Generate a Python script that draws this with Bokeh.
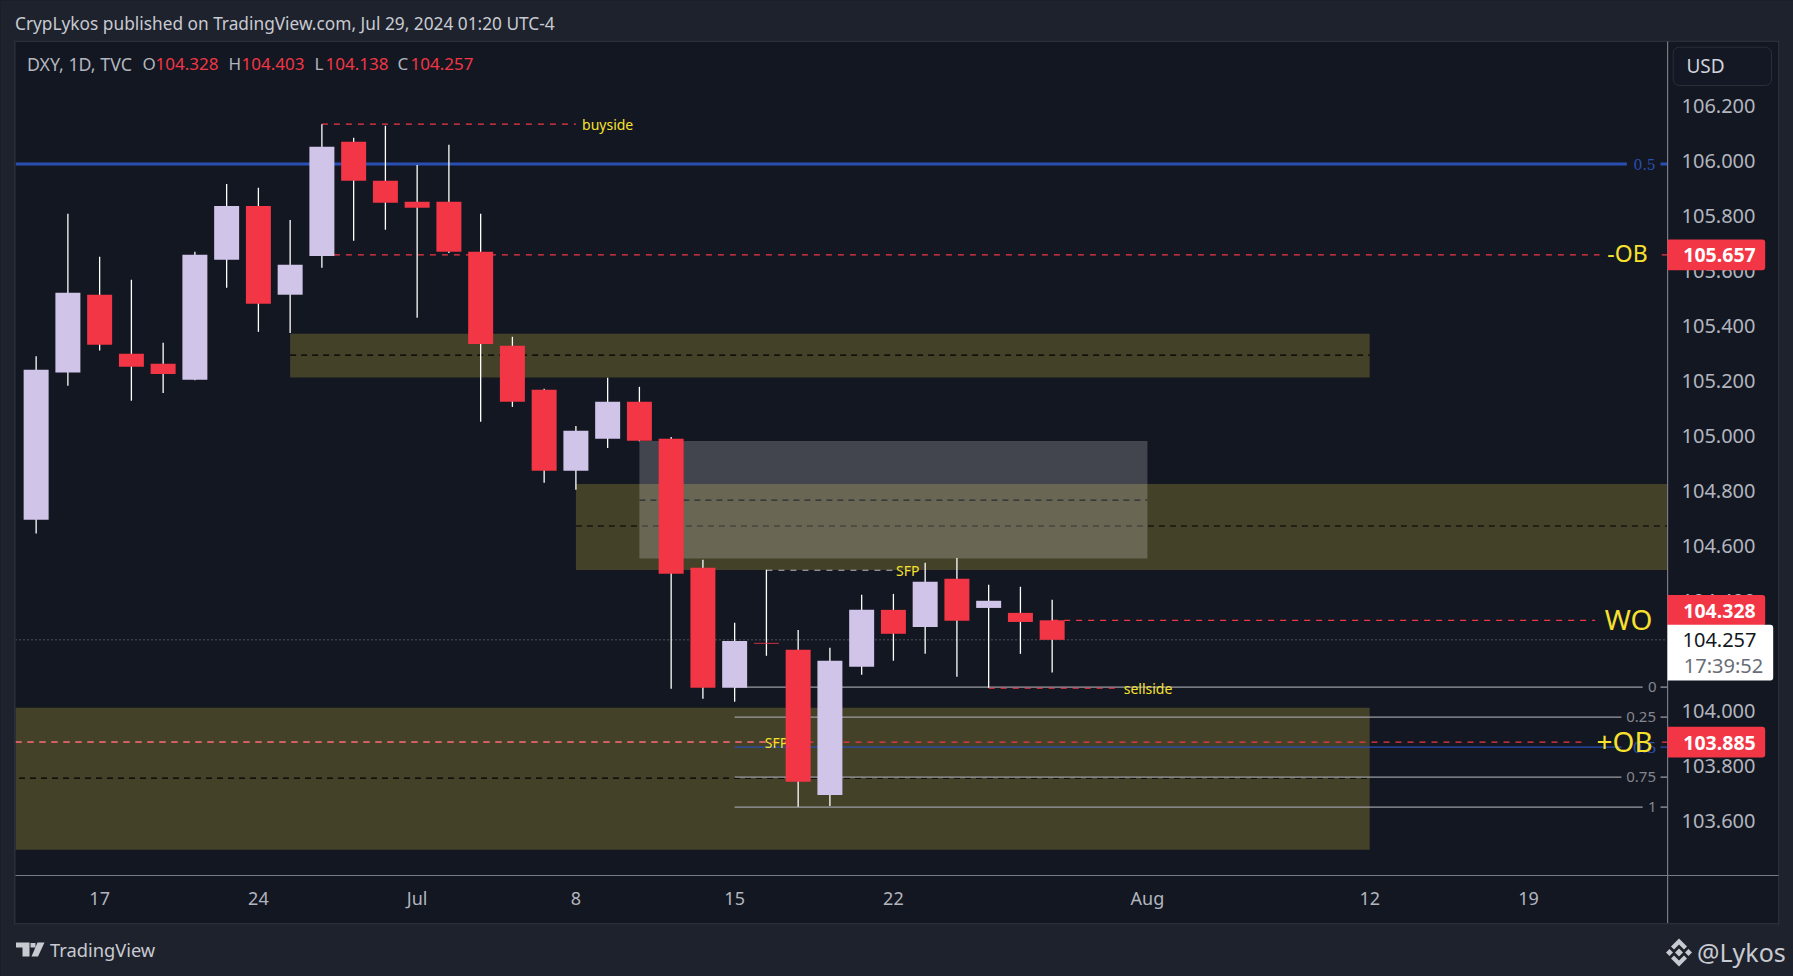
from bokeh.plotting import figure
from bokeh.embed import file_html
from bokeh.resources import INLINE
from bokeh.core.properties import value
from bokeh.models import (LinearAxis, FixedTicker, PrintfTickFormatter, BoxAnnotation, Range1d, AllLabels)

# ---------- data ----------
opens = [104.694,105.229,105.512,105.297,105.261,105.203,105.639,105.835,105.512,105.653,106.068,105.926,105.850,105.850,
         105.668,105.326,105.166,104.872,104.988,105.123,104.988,104.519,104.083,104.246,104.221,103.693,104.159,104.366,
         104.304,104.479,104.373,104.355,104.328]
highs = [105.288,105.806,105.650,105.566,105.337,105.668,105.915,105.901,105.784,106.132,106.083,106.126,105.984,106.057,
         105.806,105.359,105.170,105.035,105.210,105.177,104.995,104.548,104.319,104.512,104.293,104.228,104.421,104.424,
         104.537,104.555,104.457,104.450,104.403]
lows = [104.644,105.181,105.309,105.126,105.155,105.201,105.537,105.377,105.373,105.610,105.708,105.748,105.428,105.664,
        105.050,105.104,104.828,104.803,104.955,104.979,104.079,104.043,104.032,104.199,103.650,103.653,104.130,104.181,
        104.206,104.123,104.083,104.206,104.138]
closes = [105.239,105.519,105.330,105.250,105.224,105.657,105.835,105.479,105.621,106.050,105.926,105.846,105.828,105.668,
          105.333,105.123,104.872,105.017,105.123,104.981,104.497,104.083,104.253,104.243,103.741,104.181,104.366,104.279,
          104.468,104.326,104.399,104.322,104.257]
bar_index = list(range(len(opens)))

time_ticks = [2, 7, 12, 17, 22, 27, 35, 42, 47]
time_labels = ["17", "24", "Jul", "8", "15", "22", "Aug", "12", "19"]
price_ticks = [106.2, 106.0, 105.8, 105.6, 105.4, 105.2, 105.0, 104.8, 104.6, 104.4, 104.2, 104.0, 103.8, 103.6]

zone_left = [-1, 8, 17]
zone_right = [42, 42, 53]
zone_top = [104.010, 105.370, 104.824]
zone_bottom = [103.494, 105.211, 104.511]
zone_mid = [103.754, 105.292, 104.671]
zone_mid_left = [-0.54, 8, 17]

box_x = [19, 35]
box_price = [104.980, 104.553]
box_mid = 104.765

fib_levels = ["0", "0.25", "0.5", "0.75", "1"]
fib_prices = [104.085, 103.976, 103.867, 103.758, 103.649]
fib_start = 22
fib_end = [50.6, 49.93, 49.93, 49.93, 50.6]
fib_label_x = [50.9, 50.55, 50.66, 50.55, 50.9]
fib_stub = 51.16

upper_fib_price = 105.987
buyside_price, sellside_price = 106.132, 104.081
minus_ob, plus_ob, weekly_open, last_close = 105.657, 103.885, 104.328, 104.257
sfp_top = 104.510

# ---------- geometry of the reference ----------
FIG_W, FIG_H = 1793, 976
FL, FR, FT, FB = 15, 1667, 41, 875            # frame in pixels
X0, X1 = -0.650, 51.380
Y0, Y1 = 103.4000, 106.4328


def ypx(price):
    return FT + (Y1 - price) / (Y1 - Y0) * (FB - FT)


PANE = "#131722"
OUTER = "#1e222d"
BORDER = "#2a2e39"
OLIVE = "#444129"
RED = "#f23645"
UP = "#d1c4e9"
YELLOW = "#f7e12e"
GREY = "#9b9ca3"
BLUE = "#2a4fb3"
AXTXT = "#b2b5be"
FONT = "Noto Sans"

p = figure(width=FIG_W, height=FIG_H, output_backend="svg", toolbar_location=None,
           x_range=Range1d(X0, X1), y_range=Range1d(Y0, Y1),
           x_axis_location=None, y_axis_location=None,
           min_border_left=FL, min_border_right=FIG_W - FR,
           min_border_top=FT, min_border_bottom=FIG_H - FB,
           background_fill_color=PANE, border_fill_color=PANE, outline_line_color=None)
p.grid.visible = False

# axes
xa = LinearAxis(ticker=FixedTicker(ticks=time_ticks),
                major_label_overrides=dict(zip(time_ticks, time_labels)),
                major_label_policy=AllLabels())
ya = LinearAxis(ticker=FixedTicker(ticks=price_ticks), formatter=PrintfTickFormatter(format="%.3f"),
                major_label_policy=AllLabels())
for ax in (xa, ya):
    ax.major_tick_line_color = None
    ax.minor_tick_line_color = None
    ax.axis_line_color = None
    ax.major_label_text_font = FONT
    ax.major_label_text_font_size = "18px"
    ax.major_label_text_color = AXTXT
xa.major_label_standoff = 4
ya.major_label_standoff = 8
ya.major_label_text_font_size = "20px"
p.add_layout(xa, "below")
p.add_layout(ya, "right")

# zones
p.quad(left=zone_left, right=zone_right, top=zone_top, bottom=zone_bottom, fill_color=OLIVE, line_color=None)
p.segment(x0=zone_mid_left, x1=zone_right, y0=zone_mid, y1=zone_mid, line_color="#000000", line_width=1.2,
          line_dash="6 5")
p.quad(left=[box_x[0]], right=[box_x[1]], top=[box_price[0]], bottom=[box_price[1]], fill_color="#ffffff",
       fill_alpha=0.2, line_color=None)
p.line(x=box_x, y=[box_mid, box_mid], line_color="#2a2d35", line_width=1.1, line_dash="6 5")

# current price dotted
p.line(x=[X0, X1], y=[last_close, last_close], line_color="#8b8e98", line_width=1, line_dash="1 3")

# fibonacci retracement
for name, price, end, lx in zip(fib_levels, fib_prices, fib_end, fib_label_x):
    col = BLUE if name == "0.5" else GREY
    p.line(x=[fib_start, end], y=[price, price], line_color=col, line_width=1.3)
    p.line(x=[fib_stub, X1], y=[price, price], line_color=col, line_width=1.3)
    p.text(x=[lx], y=[price], text=[name], text_font=value("DejaVu Serif") if name == "0.5" else value(FONT),
           text_font_size="15px", text_color=BLUE if name == "0.5" else "#84868e",
           text_align="center", text_baseline="middle")
p.line(x=[X0, 50.1], y=[upper_fib_price, upper_fib_price], line_color=BLUE, line_width=3)
p.line(x=[fib_stub, X1], y=[upper_fib_price, upper_fib_price], line_color=BLUE, line_width=3)
p.text(x=[50.66], y=[upper_fib_price], text=["0.5"], text_font=value("DejaVu Serif"), text_font_size="14px",
       text_color=BLUE, text_align="center", text_baseline="middle")

# dashed marks
DASH = "6 6"
p.line(x=[X0, 23], y=[plus_ob, plus_ob], line_color="#e6e6e6", line_width=1.2, line_dash=DASH)
p.line(x=[X0, 48.67], y=[plus_ob, plus_ob], line_color=RED, line_width=1.2, line_dash=DASH)
p.line(x=[51.2, X1], y=[plus_ob, plus_ob], line_color=RED, line_width=1.2)
p.line(x=[23, 27], y=[sfp_top, sfp_top], line_color="#b8b9bd", line_width=1.2, line_dash=DASH)
p.line(x=[9, 17], y=[buyside_price, buyside_price], line_color=RED, line_width=1.2, line_dash=DASH)
p.line(x=[9, 49.24], y=[minus_ob, minus_ob], line_color=RED, line_width=1.2, line_dash=DASH)
p.line(x=[51.2, X1], y=[minus_ob, minus_ob], line_color=RED, line_width=1.2)
p.line(x=[32, 49.1], y=[weekly_open, weekly_open], line_color=RED, line_width=1.2, line_dash=DASH)
p.line(x=[30, 34], y=[sellside_price, sellside_price], line_color=RED, line_width=1.2, line_dash=DASH)

# drawn labels
notes = [("buyside", 18.0, buyside_price, 14), ("sellside", 35.02, sellside_price, 14), ("SFP", 27.45, sfp_top, 14),
         ("SFP", 23.32, plus_ob, 14), ("-OB", 50.12, minus_ob, 23), ("WO", 50.15, weekly_open, 28),
         ("+OB", 50.03, plus_ob, 28)]
for text, x, y, size in notes:
    lift = 0.005 if size >= 23 else 0.0
    p.text(x=[x], y=[y + lift], text=[text], text_font=value(FONT), text_font_size=f"{size}px", text_color=YELLOW,
           text_align="center", text_baseline="middle")

# candles
p.segment(x0=bar_index, x1=bar_index, y0=lows, y1=highs, line_color="#ffffff", line_width=1.3)
up = [i for i in bar_index if closes[i] >= opens[i]]
dn = [i for i in bar_index if closes[i] < opens[i]]
p.vbar(x=up, width=0.787, bottom=[opens[i] for i in up], top=[closes[i] for i in up], fill_color=UP, line_color=None)
p.vbar(x=dn, width=0.787, bottom=[closes[i] for i in dn], top=[opens[i] for i in dn], fill_color=RED, line_color=None)

# ---------- transparent sheet over the chart: page furniture, in page pixels ----------
ov = figure(width=FIG_W, height=FIG_H, output_backend="svg", toolbar_location=None,
            x_range=Range1d(0, FIG_W), y_range=Range1d(FIG_H, 0), x_axis_location=None, y_axis_location=None,
            min_border=0, min_border_left=0, min_border_right=0, min_border_top=0, min_border_bottom=0,
            background_fill_alpha=0, border_fill_alpha=0, outline_line_color=None)
ov.grid.visible = False
ov.styles = {"position": "absolute", "left": "0px", "top": "0px", "pointer-events": "none"}


def box(x0, y0, x1, y1, color, **kw):
    ov.add_layout(BoxAnnotation(left=x0, right=x1, top=y0, bottom=y1, fill_color=color, fill_alpha=1,
                                line_color=kw.pop("line_color", None), line_alpha=1, level="underlay", **kw))


def label(x, y, text, size, color=AXTXT, align="left", weight="normal"):
    ov.text(x=[x], y=[y], text=[text], text_font=value(FONT), text_font_size=f"{size}px", text_color=color,
            text_align=align, text_baseline="middle", text_font_style=weight)


def poly(points, color):
    ov.patch(x=[a for a, b in points], y=[b for a, b in points], fill_color=color, line_color=None)


# outer strips and frame
box(0, 0, FIG_W, 40, OUTER)
box(0, 924, FIG_W, FIG_H, OUTER)
box(0, 0, 13.5, FIG_H, OUTER)
box(1779, 0, FIG_W, FIG_H, OUTER)
box(13.5, 40, 1779, 41.5, BORDER)
box(13.5, 922.5, 1779, 924, BORDER)
box(13.5, 40, 15, 924, BORDER)
box(1777.5, 40, 1779, 924, BORDER)
box(FR - 0.5, FT, FR + 0.7, 922.5, "#787b86")
box(FL, FB - 0.6, 1778, FB + 0.6, "#787b86")

# price scale widgets
box(1672.7, 46.7, 1771, 85, "#141824", line_color=BORDER, border_radius=6)
label(1705, 65, "USD", 19, "#d1d4dc", "center")
for price, txt in [(minus_ob, "105.657"), (weekly_open + 0.036, "104.328"), (plus_ob, "103.885")]:
    cy = ypx(price)
    box(FR, cy - 15.3, 1764.7, cy + 15.3, RED, border_radius=(0, 3, 3, 0))
    label(1719, cy + 0.5, txt, 19.5, "#ffffff", "center", "bold")
cy = ypx(last_close)
box(FR, cy - 15, 1772.7, cy + 40.7, "#ffffff", border_radius=(0, 3, 3, 0))
label(1719, cy, "104.257", 20, "#131722", "center")
label(1723, cy + 25.5, "17:39:52", 20, "#6a6d78", "center")

# header, legend, footer
label(14.5, 22.5, "CrypLykos published on TradingView.com, Jul 29, 2024 01:20 UTC-4", 17.3, "#c8cad1")
label(26.5, 63, "DXY, 1D, TVC", 17.8, "#b2b5be")
for x, lab, vx, val in [(142, "O", 155, "104.328"), (228, "H", 241, "104.403"),
                        (314, "L", 325, "104.138"), (397, "C", 410, "104.257")]:
    label(x, 63, lab, 17, "#b2b5be")
    label(vx, 63, val, 17, RED)
label(49.5, 949, "TradingView", 18.3, "#c8cad1")
label(1696.5, 951.5, "@Lykos", 25, "#c8cad1")
LOGO = "#c8cad1"
poly([(15.5, 942), (29, 942), (29, 956), (22, 956), (22, 947), (15.5, 947)], LOGO)
poly([(37, 942), (44, 942), (37.5, 956), (31, 956)], LOGO)
poly([(30, 942.5), (35, 942.5), (35, 947), (30, 947)], LOGO)
cx, cy = 1678.5, 952
poly([(cx, cy - 4), (cx + 4, cy), (cx, cy + 4), (cx - 4, cy)], LOGO)
poly([(cx - 13, cy), (cx - 9.5, cy - 3.5), (cx - 6, cy), (cx - 9.5, cy + 3.5)], LOGO)
poly([(cx + 13, cy), (cx + 9.5, cy - 3.5), (cx + 6, cy), (cx + 9.5, cy + 3.5)], LOGO)
poly([(cx, cy - 14), (cx + 8, cy - 6), (cx + 5, cy - 3), (cx, cy - 8), (cx - 5, cy - 3), (cx - 8, cy - 6)], LOGO)
poly([(cx, cy + 14), (cx + 8, cy + 6), (cx + 5, cy + 3), (cx, cy + 8), (cx - 5, cy + 3), (cx - 8, cy + 6)], LOGO)

html = file_html([p, ov], INLINE)
html = html.replace("<head>", "<head><style>html,body{background:#1e222d;overflow:hidden}</style>", 1)
open("out.html", "w").write(html)
